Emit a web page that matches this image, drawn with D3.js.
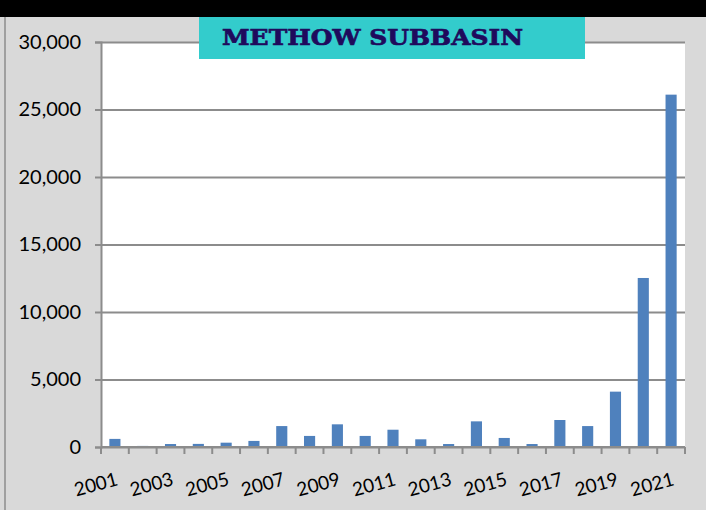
<!DOCTYPE html>
<html>
<head>
<meta charset="utf-8">
<script src="https://cdn.jsdelivr.net/npm/d3@7"></script>
<style>
    html, body { margin: 0; padding: 0; background: #d9d9d9; }
    svg { display: block; }
</style>
</head>
<body>
<div id="chart"></div>
<script>
// data
const years = ["2001", "2002", "2003", "2004", "2005", "2006", "2007", "2008", "2009", "2010", "2011",
    "2012", "2013", "2014", "2015", "2016", "2017", "2018", "2019", "2020", "2021"];
const counts = [600, 80, 220, 230, 320, 450, 1550, 820, 1680, 820, 1280,
    570, 220, 1900, 670, 220, 2000, 1550, 4100, 12520, 26100];
const yTicks = [0, 5000, 10000, 15000, 20000, 25000, 30000];
const xLabels = ["2001", "2003", "2005", "2007", "2009", "2011", "2013", "2015", "2017", "2019", "2021"];
const title = "METHOW SUBBASIN";

const width = 706, height = 510;
const margin = {top: 42, right: 21, bottom: 63, left: 101};
const gridColor = "#8c8c8c";
const labelFont = "Lato, 'Open Sans', sans-serif";

const svg = d3.select("#chart").append("svg")
    .attr("width", width)
    .attr("height", height);

// background and top band
svg.append("rect").attr("width", width).attr("height", height).attr("fill", "#d9d9d9");
svg.append("rect").attr("width", width).attr("height", 17).attr("fill", "#000");
svg.append("line")
    .attr("x1", 5).attr("x2", 5).attr("y1", 17).attr("y2", height)
    .attr("stroke", gridColor).attr("stroke-width", 1.5);

// scales
const x = d3.scaleBand()
    .domain(years)
    .range([margin.left, width - margin.right])
    .paddingInner(0.6)
    .paddingOuter(0.3);

const y = d3.scaleLinear()
    .domain([0, 30000])
    .range([height - margin.bottom, margin.top]);

// plot area
svg.append("rect")
    .attr("x", margin.left).attr("y", margin.top)
    .attr("width", width - margin.right - margin.left)
    .attr("height", height - margin.bottom - margin.top)
    .attr("fill", "#fff");

// y axis with gridlines
const yAxis = g => g.attr("transform", `translate(${margin.left}, 0)`)
    .call(d3.axisLeft(y).tickValues(yTicks).tickFormat(d3.format(",")).tickSize(6).tickPadding(14))
    .call(g => g.select(".domain").attr("stroke", gridColor).attr("stroke-width", 2))
    .call(g => g.selectAll(".tick line").attr("stroke", gridColor).attr("stroke-width", 2))
    .call(g => g.selectAll(".tick").append("line")
        .attr("x1", 0).attr("x2", width - margin.right - margin.left)
        .attr("stroke", gridColor).attr("stroke-width", 2))
    .call(g => g.selectAll("text")
        .attr("font-family", labelFont).attr("font-size", 20).attr("fill", "#000"));
svg.append("g").call(yAxis);

// bars
svg.append("g").selectAll("rect")
    .data(years)
    .join("rect")
    .attr("x", d => x(d))
    .attr("y", (d, i) => y(counts[i]))
    .attr("width", x.bandwidth())
    .attr("height", (d, i) => y(0) - y(counts[i]))
    .attr("fill", "#4f81bd");

// x axis: ticks sit between categories
const edge = x.step() * 0.3;
const xAxis = svg.append("g");
xAxis.append("line")
    .attr("x1", margin.left).attr("x2", width - margin.right)
    .attr("y1", y(0)).attr("y2", y(0))
    .attr("stroke", gridColor).attr("stroke-width", 2);
xAxis.selectAll(".xtick")
    .data(years.concat(["end"]))
    .join("line")
    .attr("class", "xtick")
    .attr("x1", d => d === "end" ? width - margin.right : x(d) - edge)
    .attr("x2", d => d === "end" ? width - margin.right : x(d) - edge)
    .attr("y1", y(0)).attr("y2", y(0) + 7)
    .attr("stroke", gridColor).attr("stroke-width", 2);
xAxis.selectAll("text")
    .data(xLabels)
    .join("text")
    .attr("transform", d => `translate(${x(d) + x.bandwidth() / 2 + 4}, ${y(0) + 38}) rotate(-15)`)
    .attr("text-anchor", "end")
    .attr("font-family", labelFont)
    .attr("font-size", 19)
    .attr("fill", "#000")
    .text(d => d);

// title box
svg.append("rect")
    .attr("x", 199).attr("y", 17)
    .attr("width", 386).attr("height", 42)
    .attr("fill", "#33cccc");
svg.append("text")
    .attr("x", 222).attr("y", 45)
    .attr("textLength", 301)
    .attr("lengthAdjust", "spacingAndGlyphs")
    .attr("font-family", "'DejaVu Serif', serif")
    .attr("font-weight", "bold")
    .attr("font-size", 23)
    .attr("fill", "#1f0a5c")
    .attr("stroke", "#1f0a5c")
    .attr("stroke-width", 0.7)
    .text(title);
</script>
</body>
</html>
